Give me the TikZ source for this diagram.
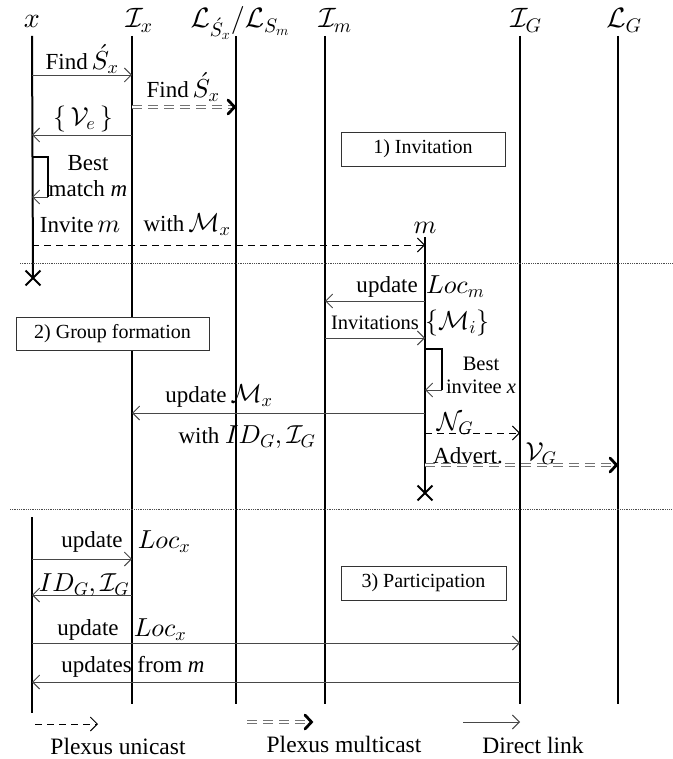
\documentclass[tikz,border=0pt]{standalone}
\usepackage{fontspec}
\setmainfont{Liberation Serif}
\DeclareFontShape{OML}{cmm}{m}{it}{<->cmmi10}{}
\DeclareFontShape{OMS}{cmsy}{m}{n}{<->cmsy10}{}
\DeclareFontShape{OT1}{cmr}{m}{n}{<->cmr10}{}
\usetikzlibrary{arrows.meta,shapes.misc,decorations.markings}
\newcommand{\mth}[1]{{\fontsize{26}{30}\selectfont$#1$}}
\begin{document}
\begin{tikzpicture}[x=1pt,y=-1pt,
  every node/.style={inner sep=1pt, font=\fontsize{23}{27}\selectfont},
  head/.style={anchor=base, font=\fontsize{28}{32}\selectfont},
  life/.style={line width=2pt, draw=black},
  tip/.style={-{Straight Barb[length=7pt,width=14pt,line width=0.9pt]}},
  direct/.style={draw=black!72, line width=0.9pt, tip},
  ucast/.style={draw=black, line width=1pt, dash pattern=on 7pt off 5pt, tip},
  mcast/.style={
     preaction={draw=black!55, line width=1.1pt, double=white, double distance=2.6pt,
       dash pattern=on 10pt off 6pt, shorten >=4pt},
     postaction={decorate, decoration={markings, mark=at position 1 with {\draw[black, solid, line width=2.8pt, line cap=round, line join=miter] (-8pt,-7pt) -- (-1.5pt,0pt) -- (-8pt,7pt);}}}},
  selfl/.style={line width=1.5pt, draw=black},
  sep/.style={draw=black!70, line width=0.8pt, dash pattern=on 0.9pt off 0.9pt},
  box/.style={draw=black!80, line width=0.8pt, fill=white, inner sep=0pt, font=\fontsize{20}{24}\selectfont},
  xmark/.style={cross out, draw=black, line width=1.8pt, minimum size=13pt, inner sep=0pt},
  small/.style={font=\fontsize{20.5}{24}\selectfont},
  leg/.style={font=\fontsize{23.5}{27}\selectfont}
]
\useasboundingbox (0,0) rectangle (672,759);

% lifeline x-positions
\coordinate (cx) at (32,0);
\coordinate (cix) at (132,0);
\coordinate (cl) at (236,0);
\coordinate (cim) at (325,0);
\coordinate (cm) at (425,0);
\coordinate (cig) at (520,0);
\coordinate (clg) at (618,0);
% rows
\coordinate (top) at (0,36);
\coordinate (bot) at (0,704);
\coordinate (xbot) at (0,713);
\coordinate (x2top) at (0,517);
\coordinate (mtop) at (0,237);

% headers
\node[head] (hx) at (32,28) {$x$};
\node[head] (hix) at (139,28) {$\mathcal{I}_x$};
\node[head] (hl) at (240,28) {$\mathcal{L}_{\acute{S}_x}/\mathcal{L}_{S_m}$};
\node[head] (him) at (335,28) {$\mathcal{I}_m$};
\node[head] (hig) at (526,28) {$\mathcal{I}_G$};
\node[head] (hlg) at (624,28) {$\mathcal{L}_G$};

% end marks
\node[xmark] (xx) at (33,278) {};
\node[xmark] (xm) at (425,493) {};

% lifelines
\draw[life] (cx |- top) -- (xx.center);
\draw[life] (cix |- top) -- (cix |- bot);
\draw[life] (cl |- top) -- (cl |- bot);
\draw[life] (cim |- top) -- (cim |- bot);
\draw[life] (cig |- top) -- (cig |- bot);
\draw[life] (clg |- top) -- (clg |- bot);
\draw[life] (cm |- mtop) -- (xm.center);
\draw[life] (cx |- x2top) -- (cx |- xbot);

% separators
\coordinate (s1a) at (20,263); \coordinate (s1b) at (672,263);
\coordinate (s2a) at (10,509); \coordinate (s2b) at (672,509);
\draw[sep] (s1a) -- (s1b);
\draw[sep] (s2a) -- (s2b);

% ---- 1) Invitation
\coordinate (r1) at (0,75);
\draw[direct] (cx |- r1) -- (cix |- r1);
\node (t1) at (82,59) {Find\,\mth{\acute{S}_x}};

\coordinate (r2) at (0,107);
\path[mcast] (cix |- r2) -- (cl |- r2);
\node (t2) at (183,87) {Find\,\mth{\acute{S}_x}};

\coordinate (r3) at (0,135);
\draw[direct] (cix |- r3) -- (cx |- r3);
\node (t3) at (83,119) {\mth{\{\,\mathcal{V}_e\,\}}};

\coordinate (l1a) at (48,157);
\coordinate (l1b) at (48,197);
\draw[selfl] (cx |- l1a) -- (l1a) -- (l1b);
\draw[direct] (l1b) -- (cx |- l1b);
\node[align=center] (t4) at (88,176) {Best\\[-1pt]match \textit{m}};

\coordinate (r5) at (0,245);
\draw[ucast] (cx |- r5) -- (cm |- r5);
\node (t5a) at (80,225) {Invite\,\mth{m}};
\node (t5b) at (187,225) {with\,\mth{\mathcal{M}_x}};
\node (tm) at (425,228) {\mth{m}};

\node[box, minimum width=164pt, minimum height=34pt] (b1) at (423,149) {1) Invitation};

% ---- 2) Group formation
\coordinate (r7) at (0,301);
\draw[direct] (cm |- r7) -- (cim |- r7);
\node[anchor=east] (t7a) at (419,287) {update};
\node[anchor=west] (t7b) at (425,287) {\mth{Loc_m}};

\coordinate (r8) at (0,338);
\draw[direct] (cim |- r8) -- (cm |- r8);
\node[anchor=east, small] (t8a) at (420,323) {Invitations};
\node[anchor=west] (t8b) at (424,323) {\mth{\{\mathcal{M}_i\}}};

\coordinate (l2a) at (442,349);
\coordinate (l2b) at (442,390);
\draw[selfl] (cm |- l2a) -- (l2a) -- (l2b);
\draw[direct] (l2b) -- (cm |- l2b);
\node[align=center, small] (t9) at (481,375) {Best\\[-1pt]invitee \textit{x}};

\coordinate (r10) at (0,413);
\draw[direct] (cm |- r10) -- (cix |- r10);
\node (t10a) at (219,396) {update\,\mth{\mathcal{M}_x}};
\node (t10b) at (247,437) {with \mth{ID_G,\mathcal{I}_G}};

\coordinate (r11) at (0,433);
\draw[ucast] (cm |- r11) -- (cig |- r11);
\node (t11) at (455,424) {\mth{\mathcal{N}_G}};

\coordinate (r12) at (0,465);
\path[mcast] (cm |- r12) -- (clg |- r12);
\node (t12a) at (468,456) {Advert.};
\node (t12b) at (541,454) {\mth{\mathcal{V}_G}};

\node[box, minimum width=193pt, minimum height=33pt] (b2) at (112.5,333.5) {2) Group formation};

% ---- 3) Participation
\coordinate (r14) at (0,559);
\draw[direct] (cx |- r14) -- (cix |- r14);
\node (t14a) at (92,542) {update};
\node (t14b) at (164,542) {\mth{Loc_x}};

\coordinate (r15) at (0,595);
\draw[direct] (cix |- r15) -- (cx |- r15);
\node (t15) at (84,585) {\mth{ID_G,\mathcal{I}_G}};

\coordinate (r16) at (0,643);
\draw[direct] (cx |- r16) -- (cig |- r16);
\node (t16a) at (88,630) {update};
\node (t16b) at (160,630) {\mth{Loc_x}};

\coordinate (r17) at (0,682);
\draw[direct] (cig |- r17) -- (cx |- r17);
\node (t17) at (133,667) {updates from \textit{m}};

\node[box, minimum width=165pt, minimum height=34pt] (b3) at (423.5,583) {3) Participation};

% ---- legend
\coordinate (g1a) at (35,724); \coordinate (g1b) at (98,724);
\draw[ucast] (g1a) -- (g1b);
\node[leg] (lg1) at (118,746) {Plexus unicast};
\coordinate (g2a) at (247,722); \coordinate (g2b) at (313,722);
\path[mcast] (g2a) -- (g2b);
\node[leg] (lg2) at (344,744) {Plexus multicast};
\coordinate (g3a) at (463,722); \coordinate (g3b) at (520,722);
\draw[direct] (g3a) -- (g3b);
\node[leg] (lg3) at (533,745) {Direct link};
\end{tikzpicture}
\end{document}
